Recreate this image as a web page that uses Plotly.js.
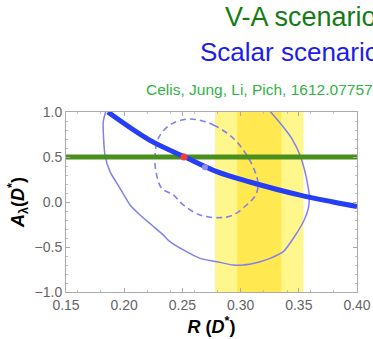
<!DOCTYPE html>
<html>
<head>
<meta charset="utf-8">
<script src="https://cdn.plot.ly/plotly-3.0.1.min.js"></script>
<style>
  html, body { margin: 0; padding: 0; background: #ffffff; }
  #chart { width: 373px; height: 339px; }
</style>
</head>
<body>
<div id="chart"></div>
<script>
// Experimental R(D*) world average: 1 sigma and 2 sigma intervals
const band1Sigma = [0.297, 0.335];
const band2Sigma = [0.278, 0.354];

// V-A scenario: constant A_lambda(D*)
const vaR = [0.15, 0.40];
const vaA = [0.5, 0.5];

// Scalar scenario: correlation curve A_lambda(D*) vs R(D*)
const scalarR = [0.186, 0.2222, 0.2514, 0.2795, 0.308, 0.351, 0.3796, 0.40];
const scalarA = [1.0, 0.685, 0.505, 0.337, 0.222, 0.076, 0.0, -0.05];

// Global-fit region, outer (solid) contour
const outerR = [0.1845, 0.182, 0.1835, 0.1878, 0.1964, 0.205, 0.2136, 0.2236, 0.2336, 0.2393,
                0.2508, 0.2651, 0.2795, 0.2937, 0.3023, 0.3167, 0.3253, 0.3367, 0.3453, 0.3539,
                0.3582, 0.359, 0.3582, 0.3553, 0.351, 0.3439, 0.3353, 0.3245];
const outerA = [1.02, 0.892, 0.522, 0.337, 0.152, -0.033, -0.144, -0.256, -0.367, -0.441,
                -0.533, -0.626, -0.663, -0.70, -0.70, -0.663, -0.626, -0.552, -0.403, -0.219,
                -0.07, 0.078, 0.152, 0.337, 0.522, 0.708, 0.856, 1.02];

// Global-fit region, inner (dashed) contour
const innerR = [0.2565, 0.2766, 0.2937, 0.3052, 0.3124, 0.315, 0.313, 0.3052, 0.2937, 0.2823,
                0.2651, 0.2508, 0.2422, 0.2322, 0.2273, 0.2265, 0.2293, 0.2393, 0.2565];
const innerA = [0.922, 0.856, 0.708, 0.522, 0.337, 0.2, 0.078, -0.033, -0.144, -0.174,
                -0.144, -0.033, 0.078, 0.152, 0.337, 0.522, 0.708, 0.856, 0.922];

// Best-fit point and V-A / scalar crossing
const bestFitR = [0.2694];
const bestFitA = [0.386];
const crossR = [0.2514];
const crossA = [0.5];

// Axis ticks
const xTicks = [0.15, 0.20, 0.25, 0.30, 0.35, 0.40];
const xTickText = ['0.15', '0.20', '0.25', '0.30', '0.35', '0.40'];
const yTicks = [-1.0, -0.5, 0.0, 0.5, 1.0];
const yTickText = ['\u22121.0', '\u22120.5', '0.0', '0.5', '1.0'];

const contourColor = 'rgb(128,128,238)';

const traces = [
  {
    x: outerR, y: outerA, mode: 'lines', type: 'scatter', hoverinfo: 'skip',
    line: { color: contourColor, width: 1.5, shape: 'spline', smoothing: 0.6 }
  },
  {
    x: innerR, y: innerA, mode: 'lines', type: 'scatter', hoverinfo: 'skip',
    line: { color: contourColor, width: 1.6, dash: '6px,4px', shape: 'spline', smoothing: 1 }
  },
  {
    x: vaR, y: vaA, mode: 'lines', type: 'scatter', hoverinfo: 'skip',
    line: { color: 'rgb(74,142,30)', width: 5 }
  },
  {
    x: scalarR, y: scalarA, mode: 'lines', type: 'scatter', hoverinfo: 'skip',
    line: { color: 'rgb(38,62,245)', width: 5, shape: 'spline', smoothing: 1 }
  },
  {
    x: bestFitR, y: bestFitA, mode: 'markers', type: 'scatter', hoverinfo: 'skip',
    marker: { color: 'rgb(145,140,240)', size: 6 }
  },
  {
    x: crossR, y: crossA, mode: 'markers', type: 'scatter', hoverinfo: 'skip',
    marker: { color: 'rgb(240,60,60)', size: 7 }
  }
];

const shapes = [
  {
    type: 'rect', xref: 'x', yref: 'paper', layer: 'below',
    x0: band2Sigma[0], x1: band2Sigma[1], y0: 0, y1: 1,
    fillcolor: 'rgb(255,246,140)', line: { width: 0 }
  },
  {
    type: 'rect', xref: 'x', yref: 'paper', layer: 'below',
    x0: band1Sigma[0], x1: band1Sigma[1], y0: 0, y1: 1,
    fillcolor: 'rgb(255,232,80)', line: { width: 0 }
  }
];

const tickFont = { family: 'Liberation Sans, Arial, sans-serif', size: 14, color: 'rgb(100,100,100)' };
const titleFont = { family: 'Liberation Sans, Arial, sans-serif', size: 18, color: '#000000' };

const axisCommon = {
  showgrid: false, zeroline: false,
  showline: true, linecolor: 'rgb(170,170,170)', linewidth: 1, mirror: 'ticks',
  ticks: 'inside', ticklen: 4, tickcolor: 'rgb(170,170,170)', tickwidth: 1,
  tickfont: tickFont, tickmode: 'array',
  minor: { ticks: 'inside', ticklen: 2, tickcolor: 'rgb(190,190,190)', nticks: 5 }
};

const layout = {
  width: 373, height: 339,
  margin: { l: 66, r: 16, t: 112, b: 47, pad: 0 },
  paper_bgcolor: '#ffffff', plot_bgcolor: '#ffffff',
  showlegend: false,
  xaxis: Object.assign({}, axisCommon, {
    range: [0.15, 0.40], tickvals: xTicks, ticktext: xTickText,
    title: { text: '<b><i>R</i> (<i>D</i><sup>*</sup>)</b>', font: titleFont, standoff: 8 }
  }),
  yaxis: Object.assign({}, axisCommon, {
    range: [-1.0, 1.0], tickvals: yTicks, ticktext: yTickText,
    title: { text: '<b><i>A</i><sub>\u03bb</sub>(<i>D</i><sup>*</sup>)</b>', font: titleFont, standoff: 5 }
  }),
  shapes: shapes,
  annotations: [
    {
      xref: 'paper', yref: 'paper', x: 0.5385, y: 1.528, xanchor: 'left', yanchor: 'middle',
      text: 'V-A scenario', showarrow: false,
      font: { family: 'Liberation Sans, Arial, sans-serif', size: 27, color: 'rgb(22,122,22)' }
    },
    {
      xref: 'paper', yref: 'paper', x: 0.4536, y: 1.333, xanchor: 'left', yanchor: 'middle',
      text: 'Scalar scenario', showarrow: false,
      font: { family: 'Liberation Sans, Arial, sans-serif', size: 26, color: 'rgb(28,28,240)' }
    },
    {
      xref: 'paper', yref: 'paper', x: 0.2680, y: 1.125, xanchor: 'left', yanchor: 'middle',
      text: 'Celis, Jung, Li, Pich, 1612.07757', showarrow: false,
      font: { family: 'Liberation Sans, Arial, sans-serif', size: 15.5, color: 'rgb(50,178,70)' }
    }
  ]
};

Plotly.newPlot('chart', traces, layout, { staticPlot: true, displayModeBar: false });
</script>
</body>
</html>
